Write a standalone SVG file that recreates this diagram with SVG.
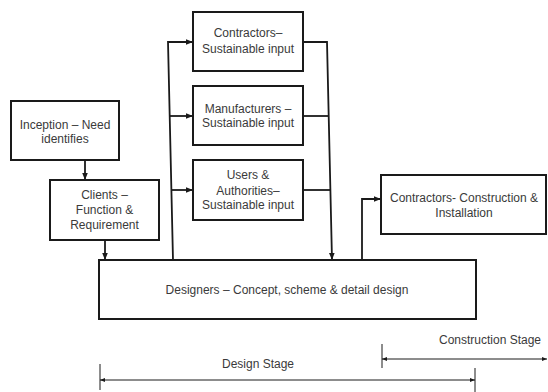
<svg xmlns="http://www.w3.org/2000/svg" width="548" height="392" viewBox="0 0 548 392">
<style>
.box{fill:#fff;stroke:#1a1a1a;stroke-width:2}
.t{font-family:"Liberation Sans",Arial,sans-serif;font-size:12px;fill:#3a3a3a;text-anchor:middle}
.c{fill:none;stroke:#1a1a1a;stroke-width:1.8}
.d{fill:none;stroke:#1a1a1a;stroke-width:1}
</style>
<defs>
<marker id="ah" viewBox="0 0 10 10" refX="10" refY="5" markerWidth="4" markerHeight="4" orient="auto" markerUnits="strokeWidth"><path d="M0,1 L10,5 L0,9 Z" fill="#1a1a1a"/></marker>
<marker id="ad" viewBox="0 0 10 10" refX="10" refY="5" markerWidth="5" markerHeight="5" orient="auto-start-reverse"><path d="M0,1 L10,5 L0,9 Z" fill="#1a1a1a"/></marker>
</defs>
<g id="connectors">
<path class="c" d="M85,160 V180" marker-end="url(#ah)"/>
<path class="c" d="M105,240 V260" marker-end="url(#ah)"/>
<path class="c" d="M173,260 L168,42 H193" marker-end="url(#ah)"/>
<path class="c" d="M169.4,116 H193" marker-end="url(#ah)"/>
<path class="c" d="M171,190 H193" marker-end="url(#ah)"/>
<path class="c" d="M303,42 H327 L332,260" marker-end="url(#ah)"/>
<path class="c" d="M303,116 H328.7"/>
<path class="c" d="M303,190 H330.4"/>
<path class="c" d="M362,260 V199 H381" marker-end="url(#ah)"/>
<path class="d" d="M100,380 H475" marker-start="url(#ad)" marker-end="url(#ad)"/>
<path class="d" d="M100,364 V390 M475,368 V392"/>
<path class="d" d="M382,359 H547" marker-start="url(#ad)" marker-end="url(#ad)"/>
<path class="d" d="M382,344 V368"/>
</g>
<g id="inception"><rect class="box" x="11" y="101" width="108" height="59"/><text class="t" x="65" y="129">Inception – Need</text><text class="t" x="65" y="143">identifies</text></g>
<g id="clients"><rect class="box" x="50" y="180" width="109" height="60"/><text class="t" x="104.5" y="199">Clients –</text><text class="t" x="104.5" y="214">Function &amp;</text><text class="t" x="104.5" y="229">Requirement</text></g>
<g id="contractors-input"><rect class="box" x="193" y="12" width="110" height="59"/><text class="t" x="248" y="37">Contractors–</text><text class="t" x="248" y="53">Sustainable input</text></g>
<g id="manufacturers"><rect class="box" x="193" y="86" width="110" height="59"/><text class="t" x="248" y="113">Manufacturers –</text><text class="t" x="248" y="127">Sustainable input</text></g>
<g id="users"><rect class="box" x="193" y="160" width="110" height="60"/><text class="t" x="248" y="179">Users &amp;</text><text class="t" x="248" y="195">Authorities–</text><text class="t" x="248" y="209">Sustainable input</text></g>
<g id="construction"><rect class="box" x="381" y="175" width="165" height="59"/><text class="t" x="464" y="202">Contractors- Construction &amp;</text><text class="t" x="464" y="217">Installation</text></g>
<g id="designers"><rect class="box" x="99" y="260" width="377" height="59"/><text class="t" x="287" y="294">Designers – Concept, scheme &amp; detail design</text></g>
<text class="t" x="490" y="344">Construction Stage</text>
<text class="t" x="258" y="368">Design Stage</text>
</svg>
